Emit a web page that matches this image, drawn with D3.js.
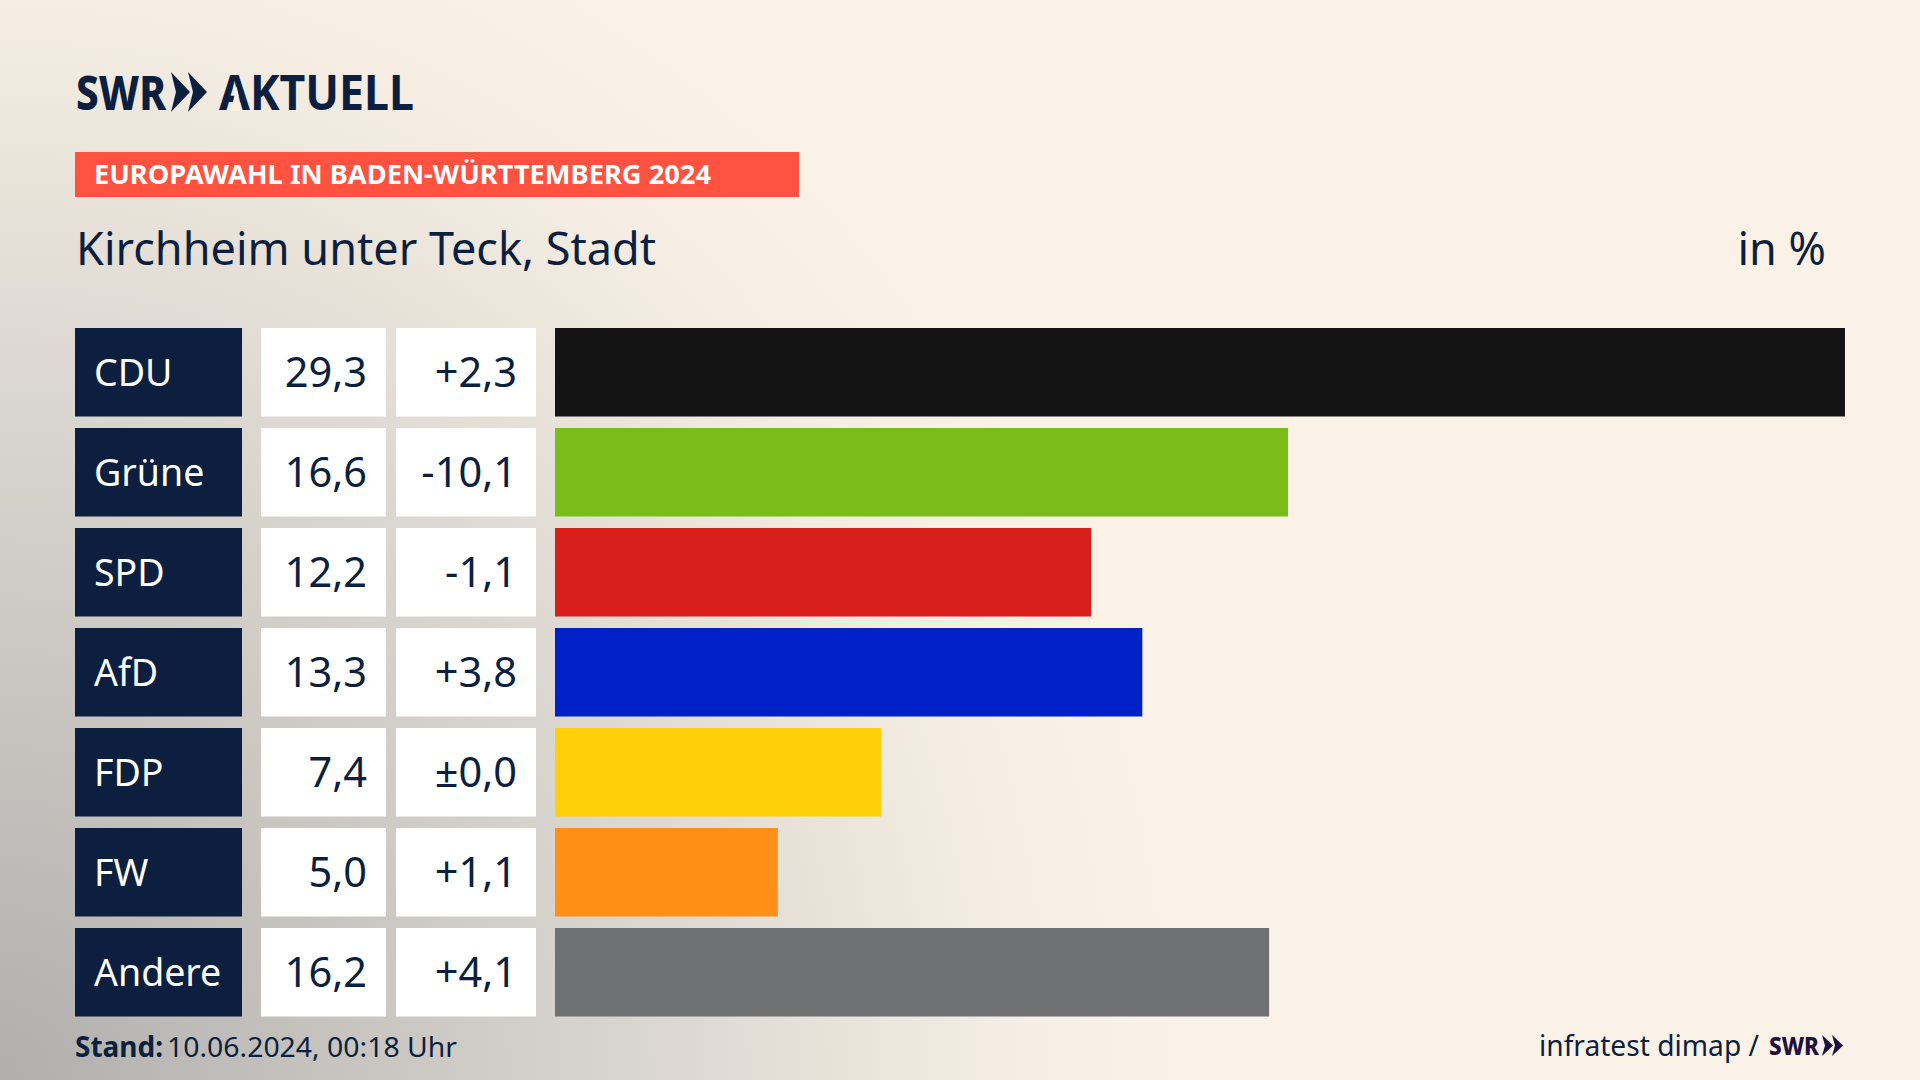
<!DOCTYPE html>
<html>
<head>
<meta charset="utf-8">
<script src="https://d3js.org/d3.v7.min.js"></script>
<style>
  html, body { margin: 0; padding: 0; background: #fbf2e7; overflow: hidden; }
  text { font-family: "Noto Sans", sans-serif; fill: #0c1f3f; }
</style>
</head>
<body>
<script>
const parties = ["CDU", "Grüne", "SPD", "AfD", "FDP", "FW", "Andere"];
const shares = [29.3, 16.6, 12.2, 13.3, 7.4, 5.0, 16.2];
// bar lengths, they carry a bit more precision than the printed labels
const barShares = [29.3, 16.65, 12.18, 13.34, 7.41, 5.06, 16.22];
const changes = [2.3, -10.1, -1.1, 3.8, 0.0, 1.1, 4.1];
const partyColors = ["#141414", "#7abd1a", "#d81f1c", "#0020c8", "#ffcf0a", "#ff8f16", "#707173"];

const W = 1920, H = 1080;
const navy = "#0c1f3f";

const svg = d3.select("body").append("svg")
  .attr("width", W).attr("height", H)
  .style("display", "block");

// background: warm cream, grey glow coming in from the lower left
const grad = svg.append("defs").append("radialGradient")
  .attr("id", "bg")
  .attr("gradientUnits", "userSpaceOnUse")
  .attr("cx", 0).attr("cy", H).attr("r", 1)
  .attr("gradientTransform", `translate(0,${H}) scale(1180,1250) translate(0,${-H})`);
[[0, "#b0afad"], [0.3, "#c8c5c0"], [0.55, "#dad6d0"], [0.72, "#e9e3da"], [0.85, "#f5ede3"], [1, "#fbf2e7"]].forEach(s => {
  grad.append("stop").attr("offset", s[0]).attr("stop-color", s[1]);
});
svg.append("rect").attr("width", W).attr("height", H).attr("fill", "#fbf2e7");
svg.append("rect").attr("width", W).attr("height", H).attr("fill", "url(#bg)");

// scales
const y = d3.scaleBand().domain(parties).range([328, 1016.5]).paddingInner(0.115);
const x = d3.scaleLinear().domain([0, 29.3]).range([555, 1845]);
const color = d3.scaleOrdinal().domain(parties).range(partyColors);

const de = d3.formatLocale({ decimal: ",", thousands: ".", grouping: [3], currency: ["", " €"] });
const fmt = de.format(".1f");
const fmtChange = v => v === 0 ? "±" + fmt(0) : (v > 0 ? "+" : "-") + fmt(Math.abs(v));

// logo
const logo = svg.append("g");
logo.append("text").attr("x", 76).attr("y", 110)
  .attr("font-size", 48).attr("font-weight", 800)
  .attr("textLength", 90).attr("lengthAdjust", "spacingAndGlyphs")
  .text("SWR");
function chevrons(g, x0, top, bottom, w, thick, gap, fill) {
  const mid = (top + bottom) / 2;
  [0, 1].forEach(i => {
    const a = x0 + i * gap;
    g.append("path")
      .attr("d", `M${a},${top} L${a + w},${mid} L${a},${bottom} L${a + w - thick},${mid} Z`)
      .attr("fill", fill);
  });
}
chevrons(logo, 171, 72, 112, 19, 14, 17, navy);
logo.append("text").attr("x", 219).attr("y", 110)
  .attr("font-size", 48).attr("font-weight", 700)
  .attr("textLength", 195).attr("lengthAdjust", "spacingAndGlyphs")
  .text("AKTUELL");
// the wordmark's A has no crossbar
logo.append("path").attr("d", "M231,111 L242,111 L236.5,86 Z").attr("fill", "#f9f0e6");

// header
svg.append("rect").attr("x", 75).attr("y", 152).attr("width", 724).attr("height", 45).attr("fill", "#ff5240");
svg.append("text").attr("x", 94).attr("y", 184)
  .attr("font-size", 26).attr("font-weight", 700)
  .style("fill", "#fff")
  .attr("textLength", 617).attr("lengthAdjust", "spacingAndGlyphs")
  .text("EUROPAWAHL IN BADEN-WÜRTTEMBERG 2024");
svg.append("text").attr("x", 76).attr("y", 265)
  .attr("font-size", 45)
  .attr("textLength", 580).attr("lengthAdjust", "spacingAndGlyphs")
  .text("Kirchheim unter Teck, Stadt");
svg.append("text").attr("x", 1826).attr("y", 265)
  .attr("font-size", 45).attr("text-anchor", "end")
  .text("in %");

// rows
const rows = svg.selectAll("g.row").data(parties).enter().append("g")
  .attr("class", "row")
  .attr("transform", d => `translate(0,${y(d)})`);

rows.append("rect").attr("x", 75).attr("width", 167).attr("height", y.bandwidth()).attr("fill", navy);
rows.append("rect").attr("x", 261).attr("width", 125).attr("height", y.bandwidth()).attr("fill", "#fff");
rows.append("rect").attr("x", 396).attr("width", 140).attr("height", y.bandwidth()).attr("fill", "#fff");
rows.append("rect").attr("x", x(0))
  .attr("width", d => x(barShares[parties.indexOf(d)]) - x(0))
  .attr("height", y.bandwidth())
  .attr("fill", d => color(d));

rows.append("text").attr("x", 94).attr("y", 58)
  .attr("font-size", 37.5)
  .style("fill", "#fff")
  .text(d => d);
rows.append("text").attr("x", 367).attr("y", 59)
  .attr("font-size", 41.5).attr("text-anchor", "end")
  .text(d => fmt(shares[parties.indexOf(d)]));
rows.append("text").attr("x", 517).attr("y", 59)
  .attr("font-size", 41.5).attr("text-anchor", "end")
  .text(d => fmtChange(changes[parties.indexOf(d)]));

// footer
svg.append("text").attr("x", 75).attr("y", 1057)
  .attr("font-size", 28).attr("font-weight", 700)
  .attr("textLength", 88).attr("lengthAdjust", "spacingAndGlyphs")
  .text("Stand:");
svg.append("text").attr("x", 167).attr("y", 1057)
  .attr("font-size", 28)
  .attr("textLength", 290).attr("lengthAdjust", "spacingAndGlyphs")
  .text("10.06.2024, 00:18 Uhr");
svg.append("text").attr("x", 1539).attr("y", 1056)
  .attr("font-size", 29)
  .attr("textLength", 220).attr("lengthAdjust", "spacingAndGlyphs")
  .text("infratest dimap /");
const small = svg.append("g");
small.append("text").attr("x", 1769).attr("y", 1055)
  .attr("font-size", 25).attr("font-weight", 800)
  .style("fill", "#1f0f42")
  .attr("textLength", 50).attr("lengthAdjust", "spacingAndGlyphs")
  .text("SWR");
chevrons(small, 1822, 1035, 1056, 11, 8, 10, "#1f0f42");
</script>
</body>
</html>
